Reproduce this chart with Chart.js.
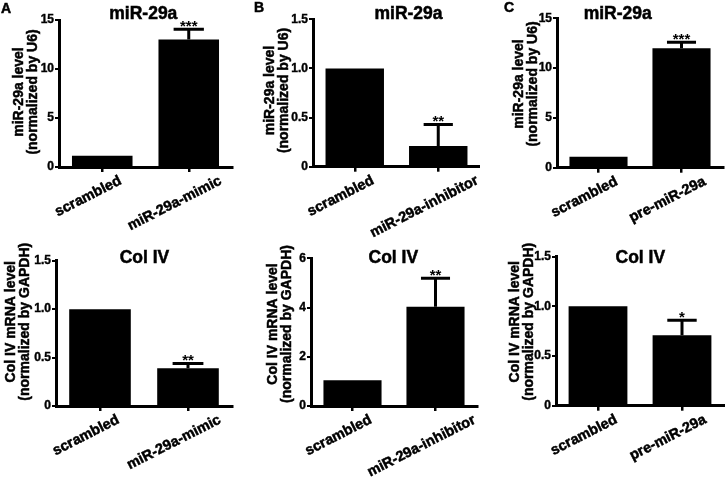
<!DOCTYPE html>
<html lang="en">
<head>
<meta charset="UTF-8">
<title>miR-29a / Col IV</title>
<script src="https://cdn.jsdelivr.net/npm/chart.js"></script>
<style>
  body { margin: 0; background: #fff; }
  #wrap { position: relative; width: 725px; height: 482px; overflow: hidden; }
  #wrap canvas { position: absolute; }
</style>
</head>
<body>
<div id="wrap"></div>

<script>
// group names
const groupsA = ['scrambled', 'miR-29a-mimic'];
const groupsB = ['scrambled', 'miR-29a-inhibitor'];
const groupsC = ['scrambled', 'pre-miR-29a'];

// miR-29a level (normalized by U6): mean and upper error
const mirA = [1.15, 13.0];
const mirAErr = [0, 1.05];
const mirB = [1.0, 0.21];
const mirBErr = [0, 0.22];
const mirC = [1.1, 12.0];
const mirCErr = [0, 0.6];

// Col IV mRNA level (normalized by GAPDH)
const colA = [1.0, 0.39];
const colAErr = [0, 0.05];
const colB = [1.05, 4.03];
const colBErr = [0, 1.16];
const colC = [1.0, 0.71];
const colCErr = [0, 0.15];

// significance marks
const mirAStars = ['', '***'];
const mirBStars = ['', '**'];
const mirCStars = ['', '***'];
const colAStars = ['', '**'];
const colBStars = ['', '**'];
const colCStars = ['', '*'];

// y ticks
const ticks15 = [0, 5, 10, 15];
const ticks15Text = ['0', '5', '10', '15'];
const ticks1_5 = [0, 0.5, 1.0, 1.5];
const ticks1_5Text = ['0', '0.5', '1.0', '1.5'];
const ticks6 = [0, 2, 4, 6];
const ticks6Text = ['0', '2', '4', '6'];

const mirTitle = ['miR-29a level', '(normalized by U6)'];
const colTitle = ['Col IV mRNA level', '(normalized by GAPDH)'];

const FONT = "'Liberation Sans', Arial, Helvetica, sans-serif";

// layout: box = canvas [left, top, w, h], area = plot [left, top, right, bottom] (page px)
const panels = [
  { letter: 'A', letterPos: [1, 12.5], title: 'miR-29a', titlePos: [143.3, 18.8],
    yTitle: mirTitle, yTitlePos: [19.5, 92], labels: groupsA, values: mirA, errors: mirAErr, stars: mirAStars,
    ticks: ticks15, tickText: ticks15Text, box: [0, 0, 240, 240], area: [59, 20, 232, 167] },
  { letter: 'B', letterPos: [254, 11.7], title: 'miR-29a', titlePos: [408.5, 18.8],
    yTitle: mirTitle, yTitlePos: [270, 90.5], labels: groupsB, values: mirB, errors: mirBErr, stars: mirBStars,
    ticks: ticks1_5, tickText: ticks1_5Text, box: [240, 0, 240, 240], area: [313, 19.3, 480, 166.7] },
  { letter: 'C', letterPos: [504, 11.7], title: 'miR-29a', titlePos: [617.7, 18.8],
    yTitle: mirTitle, yTitlePos: [519.5, 84], labels: groupsC, values: mirC, errors: mirCErr, stars: mirCStars,
    ticks: ticks15, tickText: ticks15Text, box: [480, 0, 245, 240], area: [557, 18.3, 723, 167.7] },
  { letter: '', title: 'Col IV', titlePos: [144.5, 262.7],
    yTitle: colTitle, yTitlePos: [11, 321.7], labels: groupsA, values: colA, errors: colAErr, stars: colAStars,
    ticks: ticks1_5, tickText: ticks1_5Text, box: [0, 240, 240, 242], area: [56, 260.7, 232, 406] },
  { letter: '', title: 'Col IV', titlePos: [393.3, 262.7],
    yTitle: colTitle, yTitlePos: [273, 324], labels: groupsB, values: colB, errors: colBErr, stars: colBStars,
    ticks: ticks6, tickText: ticks6Text, box: [240, 240, 240, 242], area: [311, 258.3, 477, 406] },
  { letter: '', title: 'Col IV', titlePos: [640.3, 262.7],
    yTitle: colTitle, yTitlePos: [515, 321.7], labels: groupsC, values: colC, errors: colCErr, stars: colCStars,
    ticks: ticks1_5, tickText: ticks1_5Text, box: [480, 240, 245, 242], area: [556, 256.7, 724, 405.7] }
];

const ANGLE = 27 * Math.PI / 180;

// heavy text: fill plus a thin outline, the source figure is very bold
function heavyText(ctx, s, x, y) {
  ctx.fillText(s, x, y);
  ctx.strokeText(s, x, y);
}

// error bars, stars, titles and rotated category labels
const annotate = {
  id: 'annotate',
  afterDraw(chart, args, opts) {
    const p = opts.panel;
    const ctx = chart.ctx;
    const ox = p.box[0], oy = p.box[1];
    const xs = chart.scales.x, ys = chart.scales.y;
    const meta = chart.getDatasetMeta(0);
    ctx.save();
    ctx.fillStyle = '#000';
    ctx.strokeStyle = '#000';

    meta.data.forEach((bar, i) => {
      const err = p.errors[i];
      let capY = bar.y;
      if (err > 0) {
        capY = ys.getPixelForValue(p.values[i] + err);
        const half = bar.width / 4;
        ctx.lineWidth = 3;
        ctx.beginPath();
        ctx.moveTo(bar.x, bar.y);
        ctx.lineTo(bar.x, capY);
        ctx.moveTo(bar.x - half, capY);
        ctx.lineTo(bar.x + half, capY);
        ctx.stroke();
      }
      if (p.stars[i]) {
        ctx.font = 'bold 15px ' + FONT;
        ctx.textAlign = 'center';
        ctx.textBaseline = 'alphabetic';
        ctx.fillText(p.stars[i], bar.x, capY + 1.5);
      }
    });

    ctx.lineWidth = 0.5;

    // category labels
    ctx.font = 'bold 14.5px ' + FONT;
    ctx.textAlign = 'center';
    ctx.textBaseline = 'middle';
    p.labels.forEach((lab, i) => {
      const w = ctx.measureText(lab).width;
      const cx = xs.getPixelForValue(i) - 14;
      const cy = chart.chartArea.bottom + 13 + (w / 2) * Math.sin(ANGLE);
      ctx.save();
      ctx.translate(cx, cy);
      ctx.rotate(-ANGLE);
      heavyText(ctx, lab, 0, 0);
      ctx.restore();
    });

    // chart title
    ctx.font = 'bold 17.5px ' + FONT;
    ctx.textBaseline = 'alphabetic';
    heavyText(ctx, p.title, p.titlePos[0] - ox, p.titlePos[1] - oy);

    // panel letter
    if (p.letter) {
      ctx.font = 'bold 14px ' + FONT;
      ctx.textAlign = 'left';
      heavyText(ctx, p.letter, p.letterPos[0] - ox, p.letterPos[1] - oy);
    }

    // y axis title, two lines
    ctx.font = 'bold 14px ' + FONT;
    ctx.textAlign = 'center';
    ctx.textBaseline = 'middle';
    ctx.save();
    ctx.translate(p.yTitlePos[0] - ox, p.yTitlePos[1] - oy);
    ctx.rotate(-Math.PI / 2);
    p.yTitle.forEach((line, k) => heavyText(ctx, line, 0, k * 13.7));
    ctx.restore();

    ctx.restore();
  }
};

const wrap = document.getElementById('wrap');

panels.forEach(p => {
  const [bl, bt, bw, bh] = p.box;
  const [al, at, ar, ab] = p.area;
  const cv = document.createElement('canvas');
  cv.width = bw;
  cv.height = bh;
  cv.style.left = bl + 'px';
  cv.style.top = bt + 'px';
  wrap.appendChild(cv);

  new Chart(cv, {
    type: 'bar',
    data: {
      labels: p.labels,
      datasets: [{
        data: p.values,
        backgroundColor: '#000',
        borderWidth: 0,
        barPercentage: 0.7,
        categoryPercentage: 1
      }]
    },
    options: {
      responsive: false,
      animation: false,
      layout: { padding: { left: 0, top: at - bt, right: bl + bw - ar, bottom: 0 } },
      plugins: {
        legend: { display: false },
        tooltip: { enabled: false },
        annotate: { panel: p }
      },
      scales: {
        x: {
          grid: { offset: false, drawOnChartArea: false, tickLength: 5, lineWidth: 2.5, color: '#000' },
          border: { width: 3, color: '#000' },
          ticks: { display: false },
          afterFit: s => { s.height = bh - (ab - bt); }
        },
        y: {
          min: p.ticks[0],
          max: p.ticks[p.ticks.length - 1],
          grid: { drawOnChartArea: false, tickLength: 4, lineWidth: 2, color: '#000' },
          border: { width: 3, color: '#000' },
          afterBuildTicks: s => { s.ticks = p.ticks.map(v => ({ value: v })); },
          ticks: {
            color: '#000',
            padding: 1,
            textStrokeColor: '#000',
            textStrokeWidth: 0.4,
            font: { family: FONT, size: 12, weight: 'bold' },
            callback: (v, i) => p.tickText[i]
          },
          afterFit: s => { s.width = al - bl; }
        }
      }
    },
    plugins: [annotate]
  });
});
</script>
</body>
</html>
